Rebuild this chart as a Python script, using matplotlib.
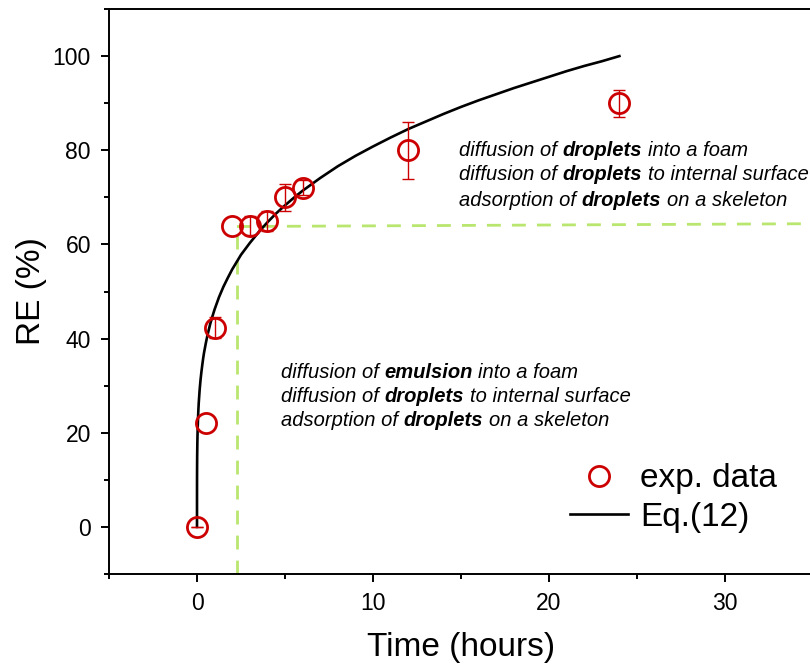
import matplotlib
matplotlib.use("Agg")
import matplotlib.pyplot as plt
from matplotlib.ticker import MultipleLocator

plt.rcParams['font.family'] = ['Liberation Sans', 'DejaVu Sans']

# experimental data
time_h = [0, 0.5, 1, 2, 3, 4, 5, 6, 12, 24]
re_pct = [0, 22, 42.3, 64, 64, 65, 70, 72, 80, 90]
re_err = [0, 0, 2.2, 0, 2.0, 2.2, 2.9, 1.6, 6.0, 2.9]
has_bar = [True, False, True, False, True, True, True, True, True, True]

# Eq.(12) curve
fit_t = [0, 0.0001, 0.0003, 0.001, 0.002, 0.005, 0.01, 0.02, 0.03, 0.04, 0.06,
         0.08, 0.1, 0.15, 0.2, 0.25, 0.3, 0.35, 0.4, 0.5, 0.6, 0.75, 0.85,
         1, 1.25, 1.5, 1.75, 2, 2.5, 3, 3.5, 4, 4.5, 5, 5.5, 6, 7, 8, 9, 10,
         11, 12, 13, 14, 15, 16, 17, 18, 19, 20, 21, 22, 23, 24]
fit_re = [0, 4.9, 6.3, 8.6, 10.1, 12.7, 15.1, 17.8, 19.7, 21.1, 23.3,
          25.0, 26.4, 29.1, 31.2, 32.9, 34.4, 35.8, 37.0, 39.0, 40.8, 43.1, 44.4,
          46.2, 48.8, 51.0, 52.9, 54.7, 57.8, 60.3, 62.6, 64.7, 66.6, 68.3, 69.9, 71.4,
          74.1, 76.6, 78.8, 80.8, 82.7, 84.5, 86.1, 87.7, 89.2, 90.6, 91.9, 93.2,
          94.4, 95.6, 96.8, 97.9, 98.9, 100]

# regime boundary (dashed guide)
bound_t = 2.27
bound_re = [63.8, 64.4]

notes_upper = [
    [("diffusion of", False), ("droplets", True), ("into a foam", False)],
    [("diffusion of", False), ("droplets", True), ("to internal surface", False)],
    [("adsorption of", False), ("droplets", True), ("on a skeleton", False)],
]
notes_lower = [
    [("diffusion of", False), ("emulsion", True), ("into a foam", False)],
    [("diffusion of", False), ("droplets", True), ("to internal surface", False)],
    [("adsorption of", False), ("droplets", True), ("on a skeleton", False)],
]

red = '#CC0000'
green = '#B9E66E'

fig = plt.figure(figsize=(8.1, 6.67), dpi=100)
ax = fig.add_axes([109/810, 1 - 574/667, 704/810, 565/667])

ax.plot([bound_t, bound_t], [-10, bound_re[0]], color=green, lw=2, dashes=(5, 4))
ax.plot([bound_t, 35], bound_re, color=green, lw=2, dashes=(5, 4))

ax.plot(fit_t, fit_re, color='black', lw=1.9, label='Eq.(12)', zorder=3)
bt = [t for t, b in zip(time_h, has_bar) if b]
bv = [v for v, b in zip(re_pct, has_bar) if b]
be = [e for e, b in zip(re_err, has_bar) if b]
ax.errorbar(bt, bv, yerr=be, fmt='none', ecolor=red, elinewidth=1,
            capsize=4.5, capthick=1, zorder=4)
ax.plot(time_h, re_pct, 'o', ms=14.5, mfc='none', mec=red, mew=2,
        label='exp. data', zorder=5)

ax.set_xlim(-5, 35)
ax.set_ylim(-10, 110)
ax.xaxis.set_major_locator(MultipleLocator(10))
ax.xaxis.set_minor_locator(MultipleLocator(5))
ax.yaxis.set_major_locator(MultipleLocator(20))
ax.yaxis.set_minor_locator(MultipleLocator(10))
ax.tick_params(which='both', direction='out', width=1.4, labelsize=16.5,
               top=False, right=False)
ax.tick_params(which='major', length=6, pad=7)
ax.tick_params(which='minor', length=3.5)
for side in ['left', 'bottom', 'top']:
    ax.spines[side].set_linewidth(1.4)
ax.spines['right'].set_visible(False)

ax.set_xlabel('Time (hours)', fontsize=24, labelpad=12)
ax.set_ylabel('RE (%)', fontsize=24, labelpad=4)

handles, labels = ax.get_legend_handles_labels()
ax.legend(handles[::-1], labels[::-1], loc='upper left',
          bbox_to_anchor=(0.655, 0.196), frameon=False, fontsize=24,
          borderpad=0, borderaxespad=0, handlelength=1.75,
          handletextpad=0.35, labelspacing=0.22)


def rich_line(x, y, parts, fs=14.5):
    # x, y in figure pixels, pieces placed one after another
    prev = None
    for txt, bold in parts:
        w = 'bold' if bold else 'normal'
        if prev is None:
            prev = fig.text(x / 810, 1 - y / 667, txt, fontsize=fs, style='italic',
                            weight=w, va='center', ha='left')
        else:
            prev = ax.annotate(txt, xy=(1, 0), xycoords=prev, xytext=(0.278 * fs, 0),
                               textcoords='offset points', fontsize=fs,
                               style='italic', weight=w, va='bottom', ha='left',
                               annotation_clip=False)


for i, line in enumerate(notes_upper):
    rich_line(459, 150 + 25 * i, line)
for i, line in enumerate(notes_lower):
    rich_line(281, 372 + 24.5 * i, line)

fig.savefig('out.png', dpi=100)
